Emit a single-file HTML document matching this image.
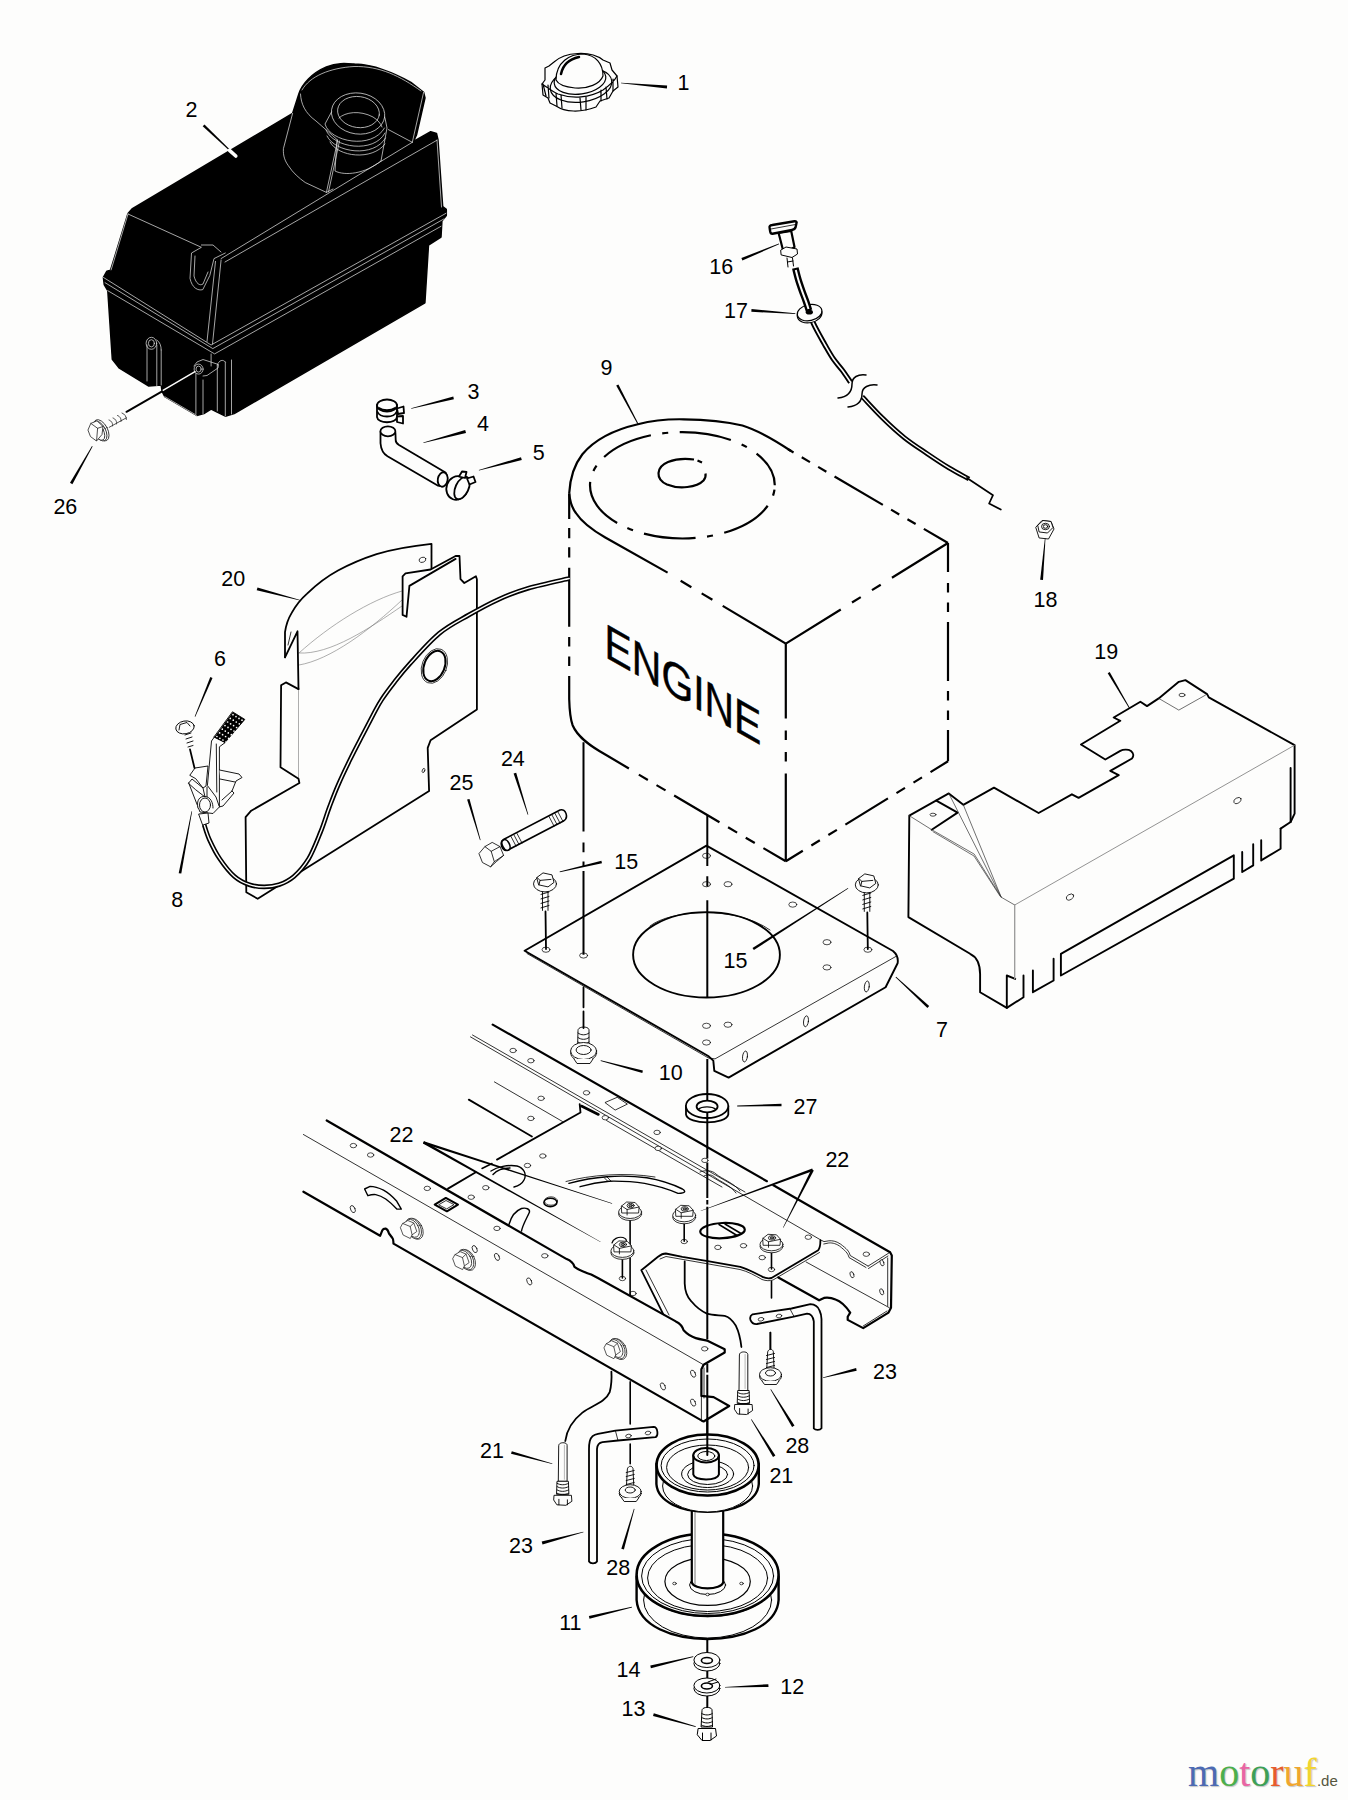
<!DOCTYPE html>
<html><head><meta charset="utf-8"><title>Engine mount parts diagram</title>
<style>
html,body{margin:0;padding:0;background:#fdfdfc;}
body{width:1348px;height:1800px;overflow:hidden;position:relative;font-family:"Liberation Sans",Arial,sans-serif;}
svg{position:absolute;left:0;top:0;display:block}
svg text{font-family:"Liberation Sans",Arial,sans-serif;font-size:21.5px;fill:#000}
.wm{position:absolute;left:1188px;top:1750px;font-family:"Liberation Serif","Times New Roman",serif;font-size:40px;line-height:46px;white-space:nowrap;letter-spacing:0;text-shadow:1px 1px 1px rgba(120,120,120,.45);opacity:.93}
.wm span.de{font-family:"Liberation Sans",Arial,sans-serif;font-size:15px;color:#4a4a30;text-shadow:none}
</style></head><body>
<svg width="1348" height="1800" viewBox="0 0 1348 1800" fill="none" stroke-linecap="round" stroke-linejoin="round">
<g id="tank">
<path fill="#000" stroke="#000" stroke-width="1.5" d="M298.9,93.7 C302,84 312,73 326.4,66.9 C338,62.5 346,63.5 354.6,64.1 C366,64.5 374,66.5 382.8,69.7 C394,73.5 403,78 410.9,82.4 L423.6,92.3 L425,97.9 L416.6,134.6 L413.5,141.5 L430.7,131.7 L436.5,133.5 L438,140 L442.7,206.7 L446.3,209.4 L446.3,215.6 L441.9,220.9 L441,237 L428.5,245 L424.9,302.8 L234.2,413.6 L225.3,416.2 L214.6,410.9 L211.1,409.1 L203.9,413.6 L196.8,415.4 L164.8,396.7 L162.1,391.3 L161.2,385.1 L148.8,386 L119.4,368.2 L112.3,359.3 L107.8,290.7 L104.2,284.5 L103.4,277.4 L106.9,271.2 L110.5,270.3 L128,213.5 L132,209 L270,126.8 L292.6,113.4 Z"/>
<path stroke="#dcdcdc" stroke-width="0.75" fill="none" d="M221.1,258.6 L412.3,142.3 M225,262 L437,140.2 M128,214 L201.4,247.3 L191.5,253 L190,278.4 C192,288 198,291 202.8,289.6 L209.8,275.5 L214,258.6 L225.3,253 M201.4,245 L213,245 L221,252 M195,256 L194,276 C196,284 200,286 203,284 L208,272"/>
<path stroke="#dcdcdc" stroke-width="0.75" fill="none" d="M103.4,277.4 L211.1,345 L446,213.3 M105.1,282.7 L212.8,348.6 L444,218.9 M107.8,290.7 L214.6,353.9 L441,226.3 M221.1,260 L212.5,344 M215.5,261.4 L207,341.5 M128,214 L111.1,269.9 M437,140 L441.5,207"/>
<path stroke="#dcdcdc" stroke-width="0.75" fill="none" d="M195.9,373.5 L195.9,413.6 M203,380 L203,413.8 M211.1,354 L211.1,366 M217.3,365 L217.3,411 M225.3,362 L225.3,416 M231.5,360 L231.5,414 M217.3,365 C219,360 223,359 225.3,362 M164.8,396.7 L196.8,415.4 M147,345 L147,381 M156.8,345 L156.8,386 M161.2,350 L161.2,385 M156.8,340 C160,342 161.2,346 161.2,350"/>
<ellipse stroke="#dcdcdc" stroke-width="0.75" fill="none" cx="151.4" cy="343.3" rx="5.3" ry="6"/><ellipse stroke="#dcdcdc" stroke-width="0.75" fill="none" cx="151.4" cy="343.3" rx="3" ry="3.6"/>
<path stroke="#dcdcdc" stroke-width="0.75" fill="none" d="M194,366 L197,362 L203,359.5 L218.5,364.5 L218,368 L207,375.5 L203,376"/><ellipse stroke="#dcdcdc" stroke-width="0.75" fill="none" cx="198.6" cy="369.1" rx="4.5" ry="5"/><ellipse stroke="#dcdcdc" stroke-width="0.75" fill="none" cx="198.6" cy="369.1" rx="2.6" ry="3"/>
<path stroke="#dcdcdc" stroke-width="0.75" fill="none" d="M292.6,113.4 L283.4,148.7 C283,156 285,161 288.3,165.6 C293,173 299,178 305.2,182.5 L326.4,192.4 L337.7,140.2 M328.5,192 L339.5,141 M300.5,94 C301,104 305,113 316,121 C324,128 331,134 337.7,140.2 M326.4,192.4 L333,189 M388.4,129.6 L412.3,142.3 M423.6,92.3 L412.3,142.3 M302,90 C310,76 330,68 354,66.5 C380,66 400,76 421,91"/>
<ellipse stroke="#dcdcdc" stroke-width="0.75" fill="none" cx="358.1" cy="113.5" rx="26.8" ry="20.5" transform="rotate(8 358 113.5)"/>
<ellipse stroke="#dcdcdc" stroke-width="0.75" fill="none" cx="358.5" cy="112" rx="21" ry="15.5" transform="rotate(8 358 112)"/>
<path stroke="#dcdcdc" stroke-width="0.75" fill="none" d="M339,118 C345,112 360,110 373,117 C378,120 381,124 382,127 M331.5,112 L325,124 C330,142 372,150 384.5,128 M326,130 C333,148 374,154 385,133 M327,136 C335,153 374,158 385.5,138 M330,142 C338,157 372,161 385,144 M385,118 L387,128 L381,161 M337,140 L335,171 C345,176 365,174 381,161"/>
</g>
<polygon fill="#000" points="202.7,126.3 229.2,150.4 229.8,149.6 204.5,124.5"/>
<path stroke="#fdfdfc" stroke-width="3.6" stroke-linecap="round" d="M229.5,150.3 L235.8,156"/>
<path stroke="#fdfdfc" stroke-width="1.5" d="M195,371.7 L163,390.4"/>
<path stroke="#000" stroke-width="2" d="M162.1,391.3 L126.5,411.8"/>
<path stroke="#222" stroke-width="0.8" fill="none" d="M109.2,427.3 L126.4,417.8 M109,420 C112,421 113,424 112.5,426 M113,418 C116,419 117,422 116.5,424 M117.5,415.5 C120.5,416.5 121.5,419.5 121,421.5 M122,413 C125,414 126.5,417 126.4,419.5"/>
<g fill="#fdfdfc" stroke="#222" stroke-width="0.8"><ellipse cx="101.3" cy="430.3" rx="6.3" ry="11.6" transform="rotate(-28 101.3 430.3)"/><ellipse cx="99.8" cy="431" rx="5.8" ry="10.8" transform="rotate(-28 99.8 431)"/><ellipse cx="98.5" cy="431.5" rx="5" ry="9.6" transform="rotate(-28 98.5 431.5)"/><polygon points="88.1,429.7 90.8,423.4 97,420.8 103,426.5 102,434.5 96.5,441 90.8,436.8"/><path fill="none" d="M90.8,423.4 L97.6,428.3 L103,426.5 M97.6,428.3 L96.6,440.5"/></g>
<polygon fill="#000" points="72.4,484.2 92.6,446.5 92.0,446.1 70.0,482.8"/>
<g id="cap" stroke="#000" stroke-width="1.2" fill="#fdfdfc">
<path d="M545,68 L549,66 L554,62 C565,52 590,50 603,60 L610,63 L612,70 L617,76 L618,87 L613,91 L609,98 L600,101 L596,107 C580,113 565,112 556,106 L550,103 L548,98 L543,95 L542,84 L545,80 Z"/>
<ellipse cx="581" cy="85" rx="31" ry="17" transform="rotate(-8 581 85)"/>
<ellipse cx="580" cy="80" rx="26" ry="14" transform="rotate(-8 580 80)"/>
<path d="M556,80 C556,62 570,54 583,54 C596,55 603,64 603,76 C600,84 588,89 575,88 C565,87 558,84 556,80 Z"/>
<path stroke-width="2.5" fill="none" d="M561,74 C563,64 570,59 579,57"/>
<path fill="none" d="M543,84 L546,96 M548,85 L549,98 M556,93 L557,106 M561,95 L562,108 M580,98 L581,110 M586,97 L586,110 M601,90 L601,101 M606,87 L607,99 M613,79 L613,91 M542,84 C548,88 553,92 558,94 C572,99 590,98 603,90 C610,85 615,80 617,76"/>
</g>
<polygon fill="#000" points="667.1,85.6 621.0,82.7 621.0,83.3 666.9,88.4"/>
<g id="hose" stroke="#000" stroke-width="1.8" fill="#fdfdfc">
<path d="M380.5,431.8 L380.5,443.2 C381,450 383,453.5 387.5,456.3 L438.1,485.7 C445,488 449,478 445.5,472.6 L399,444.9 C396,443 395.6,441 395.7,440 L395.4,432.6"/>
<ellipse cx="387.9" cy="431.3" rx="7.5" ry="5"/>
<ellipse cx="442.7" cy="479.5" rx="4.9" ry="7.3" transform="rotate(10 442.7 479.5)"/>
<path d="M377,405 L377,417 C378,424 396,424 397,417 L397,405"/><ellipse cx="387" cy="405.5" rx="10" ry="6"/><path fill="none" d="M377.5,412 C380,418 394,418 396.5,412 M379,408 C383,411 391,411 395,408"/>
<path d="M397,408.5 L403.5,406.5 L404,413 L398,414 Z M397,416.5 L403,416 L403,423.5 L397,422 Z"/>
<ellipse cx="457" cy="488" rx="10.5" ry="12" transform="rotate(20 457 488)"/><ellipse cx="462" cy="488" rx="6.5" ry="12" transform="rotate(25 462 488)"/>
<path d="M459,476.5 L462,471.5 L466.5,472 L465,478 Z M467,478.5 L473.5,476.5 L475.5,482 L469.5,484.5 Z"/>
</g>
<polygon fill="#000" points="453.3,396.5 411.1,408.2 411.3,408.8 453.9,399.3"/>
<polygon fill="#000" points="465.2,430.1 423.3,442.4 423.5,443.0 466.0,432.9"/>
<polygon fill="#000" points="521.0,457.3 478.8,469.9 479.0,470.5 521.8,460.1"/>
<g id="engine" stroke="#000" stroke-width="2.2" fill="none" stroke-linecap="butt">
<path d="M569.2,493.4 C570,478 574,465 582.4,454.2 C596,438 617,429 637.9,424.2 C652,420.5 668,419 683.6,419.3 C703,419.5 724,421 742.4,425.5 C760,431 776,441 791,451"/>
<path stroke-dasharray="28 9.5 9.5 9.5 9.5 9.5 56 9.5 9.5 9.5 9.5 9.5 300" d="M948,543 L788.1,449.3"/>
<path stroke-dasharray="29 11 9.5 10 9.5 10 59 10 9.5 10 9.5 10 300" d="M948,543 L948,761.3"/>
<path d="M569.2,493.4 C570,502 572,508 575.9,513 C583,524 594,531 605.3,537.5 L667.6,572.6"/>
<path stroke-dasharray="73.5 12 12.5 12 12.5 300" d="M785.8,643.6 L676,578"/>
<path stroke-dasharray="64.7 13.2 10.3 13.2 10.3 13.2 300" d="M785.8,643.6 L948,543"/>
<path stroke-dasharray="75 12 9.5 12 9.5 12 300" d="M785.8,643.6 L785.8,861.3"/>
<path stroke-dasharray="25.5 9 10.4 9 10.2 10.3 59 10.3 9.5 10 9.5 10 300" d="M569.2,493.4 L569.2,699 C569.5,710 570,718 572.6,725.2 C578,738 592,747 605.3,754.5 L628.9,768.5"/>
<path stroke-dasharray="26 10 10.5 10 10.5 10 52.6 10 10.5 10 10.5 300" d="M785.8,861.3 L636,773"/>
<path stroke-dasharray="20 10 10 10 10 10 50 10 10 10 10 10 300" d="M785.8,861.3 L948,761.3"/>
<ellipse cx="682.4" cy="485.3" rx="92.4" ry="53.2" stroke-dasharray="52 11.5 6 11.5" stroke-dashoffset="-22"/>
<path d="M694,459.5 C686,458.3 676,458.8 668,462 C656,467 655,479 667,484.5 C679,489.5 697,487.5 703.5,480.5 C705.5,478 705.8,475 705.5,473.5 M697.5,460.5 L702,462.5"/>
</g>
<text transform="matrix(0.843,0.479,0,1,604.6,656.4)" style="font-size:48.5px" stroke="#000" stroke-width="0.5" x="0" y="0">ENGINE</text>
<polygon fill="#000" points="616.2,385.6 637.6,424.2 638.4,423.8 618.4,384.4"/>
<g id="c16" stroke="#000" fill="#fdfdfc">
<path stroke-width="5.4" fill="none" stroke-linecap="butt" d="M809.0,310.5 C809.8,312.7 810.9,318.0 813.5,323.7 C816.1,329.4 821.4,338.6 824.7,344.5 C828.1,350.4 830.6,355.0 833.6,359.3 C836.6,363.6 839.7,366.7 842.5,370.5 C845.3,374.3 849.2,380.3 850.6,382.3"/><path stroke="#fdfdfc" stroke-width="1.6" fill="none" d="M809.0,310.5 C809.8,312.7 810.9,318.0 813.5,323.7 C816.1,329.4 821.4,338.6 824.7,344.5 C828.1,350.4 830.6,355.0 833.6,359.3 C836.6,363.6 839.7,366.7 842.5,370.5 C845.3,374.3 849.2,380.3 850.6,382.3"/>
<path stroke-width="4.8" fill="none" stroke-linecap="butt" d="M862.2,396.7 C865.6,400.2 875.2,410.9 882.3,417.8 C889.3,424.7 897.1,431.9 904.5,437.8 C911.9,443.7 919.4,448.4 926.8,453.4 C934.2,458.4 942.0,463.6 949.0,467.9 C956.0,472.2 965.7,477.1 969.0,479.0"/><path stroke="#fdfdfc" stroke-width="1.3" fill="none" d="M862.2,396.7 C865.6,400.2 875.2,410.9 882.3,417.8 C889.3,424.7 897.1,431.9 904.5,437.8 C911.9,443.7 919.4,448.4 926.8,453.4 C934.2,458.4 942.0,463.6 949.0,467.9 C956.0,472.2 965.7,477.1 969.0,479.0"/>
<path stroke-width="1.7" fill="none" d="M967,478 L993,495.2 L989.1,503.5 L1000.8,509.6"/>
<path stroke-width="1.5" fill="none" d="M838,398 C848,397 852,392 852,384 C852,377 858,374 866,375 M848,407 C858,406 862,401 862,394 C862,387 869,384 877,385"/>
<path stroke-width="2.2" d="M778.6,233 L782.6,248.5 C785,251 792,250 794.5,247 L791.2,231 Z"/><path stroke-width="2.4" d="M769.7,228.5 C769,226 770,225.3 772.3,225 L794.5,221.3 C796.5,221.2 797,222.5 796.4,223.5 L795.5,227.5 C795,229 794.5,229.5 792,230 L772.5,233.8 C771,234 770.5,233 770.2,231.5 Z"/><path stroke-width="0.8" fill="none" d="M771,229 L795.5,224.5"/>
<path stroke-width="1" d="M781,250 L786,247 L797,249 L797.5,254 L792,257.5 L781.5,255 Z M787,258 L788,267 M792.5,258 L793.5,266 M787.5,262 L793,261"/>
<ellipse stroke-width="1.2" cx="809.6" cy="314.4" rx="12.5" ry="8.3" transform="rotate(-12 809.6 314.4)"/><ellipse stroke-width="1.2" cx="809.6" cy="312.6" rx="12.5" ry="8" transform="rotate(-12 809.6 312.6)"/><ellipse fill="#000" stroke="none" cx="809.3" cy="312.2" rx="3.6" ry="2.4"/>
<path stroke-width="6.8" fill="none" stroke-linecap="butt" d="M795.3,268.0 C795.8,269.9 797.1,275.5 798.2,279.2 C799.3,282.9 800.6,286.6 801.9,290.3 C803.2,294.0 804.8,298.0 806.0,301.4 C807.2,304.8 808.5,309.0 809.0,310.5"/><path stroke="#fdfdfc" stroke-width="2" fill="none" stroke-linecap="butt" d="M795.8,270.0 C796.2,271.5 797.2,275.8 798.2,279.2 C799.2,282.6 800.6,286.6 801.9,290.3 C803.2,294.0 804.9,298.3 806.0,301.4 C807.1,304.5 808.1,307.7 808.5,309.0"/>
<g stroke-width="0.9" transform="translate(0,3)"><polygon points="1036,524 1042,517.5 1051,518.5 1054,526 1048.5,536 1039.5,535"/><polygon points="1038,522 1043,517.5 1051,518.5 1053,524.5 1047.5,530 1039.5,529"/><ellipse cx="1045.5" cy="523.5" rx="4" ry="3.2"/><ellipse cx="1045.5" cy="523.5" rx="2.2" ry="1.8"/></g>
</g>
<polygon fill="#000" points="742.4,260.6 779.1,244.2 778.9,243.6 741.4,258.0"/>
<polygon fill="#000" points="751.3,311.8 795.3,313.9 795.3,313.3 751.5,309.0"/>
<polygon fill="#000" points="1043.0,579.9 1045.5,538.3 1044.9,538.3 1040.2,579.7"/>
<g id="shield" stroke="#000" stroke-width="1.8" fill="none">
<path fill="#fdfdfc" stroke="none" d="M285,657.3 L285,632.2 C286,625 288,619 291.7,612.9 C296,605 301,599 307.1,593.6 C316,585 326,577 338,570.5 C350,564 363,558.5 376.6,554.1 C394,549 412,546 431.5,543.9 L431.5,568.6 L431.5,620 L298,700 L297.5,631.3 Z"/>
<path fill="#fdfdfc" stroke="none" d="M298.5,689.1 L285.9,682.4 L281.1,685.3 L280.5,767.2 L298.5,778.8 L299.4,783 L251.2,810.7 L245.6,817.2 L246.3,892.3 L257.7,898.8 L429.1,791.1 L427.7,747.9 L430.6,740.2 L476.9,709.4 L476.9,579.2 L475.9,576.3 L464.3,583 L460.5,579.2 L459.5,556 L455.6,556 L430.6,569.5 L405.5,573.4 L402.6,576.3 L402.6,614.9 L406.5,616.8 L298,650 Z"/>
<path stroke="#777" stroke-width="0.6" d="M298.5,689.1 L298.5,778.8 M299,653 C330,625 370,600 402,591 M299,653 C330,655 370,628 402,606 M299,665 C330,660 370,630 402,600"/>
<path d="M285,657.3 L285,632.2 C286,625 288,619 291.7,612.9 C296,605 301,599 307.1,593.6 C316,585 326,577 338,570.5 C350,564 363,558.5 376.6,554.1 C394,549 412,546 431.5,543.9 L431.5,568.6"/>
<path d="M285,657.3 L297.5,631.3 L298.5,689.1"/>
<path d="M298.5,689.1 L285.9,682.4 L281.1,685.3 L280.5,767.2 L298.5,778.8 L299.4,783 L251.2,810.7 L245.6,817.2 L246.3,892.3 L257.7,898.8 L429.1,791.1 L427.7,747.9 L430.6,740.2 L476.9,709.4 L476.9,579.2 L475.9,576.3 L464.3,583 L460.5,579.2 L459.5,556 L455.6,556 L430.6,569.5 L405.5,573.4 L402.6,576.3 L402.6,614.9 L406.5,616.8 L409.4,585.9 L455.6,558.9"/>
<path stroke-width="0.8" d="M288,645 L291,632"/>
<ellipse stroke-width="0.7" cx="434.4" cy="666" rx="12.3" ry="18" transform="rotate(22 434.4 666)"/><ellipse stroke-width="2" cx="434.4" cy="666" rx="10.2" ry="15.8" transform="rotate(22 434.4 666)"/>
<ellipse stroke-width="0.7" cx="422.5" cy="559.8" rx="3.5" ry="2.5" transform="rotate(-20 422.5 559.8)"/><ellipse stroke-width="0.7" cx="423.5" cy="770.5" rx="1.2" ry="2.2" transform="rotate(20 423.5 770.5)"/>
</g>
<path stroke="#000" stroke-width="4.7" fill="none" stroke-linecap="butt" d="M569.2,578.5 C562.4,580.1 540.1,584.7 528.4,588.2 C516.6,591.7 508.6,594.8 498.7,599.3 C488.8,603.8 478.9,609.2 469.0,614.9 C459.1,620.6 449.2,625.2 439.3,633.4 C429.4,641.6 417.1,655.8 409.7,663.9 C402.3,672.0 399.4,675.8 394.8,681.7 C390.2,687.6 385.4,693.9 381.9,699.3 C378.3,704.7 376.8,708.0 373.5,714.2 C370.2,720.4 365.8,728.9 361.9,736.4 C358.0,743.9 354.1,751.3 350.2,759.3 C346.3,767.3 341.8,776.6 338.4,784.5 C334.9,792.4 332.5,798.9 329.5,806.8 C326.5,814.7 324.1,823.4 320.6,832.0 C317.1,840.6 313.1,851.3 308.7,858.7 C304.2,866.1 298.8,872.2 293.9,876.5 C288.9,880.8 283.9,883.0 279.0,884.7 C274.1,886.4 269.1,886.9 264.2,886.9 C259.2,886.9 254.2,886.4 249.3,884.7 C244.4,883.0 239.4,880.8 234.5,876.5 C229.6,872.2 223.9,864.9 219.7,858.7 C215.5,852.5 211.9,845.1 209.3,839.4 C206.7,833.7 205.0,827.1 204.1,824.6"/><path stroke="#fdfdfc" stroke-width="1.4" fill="none" d="M569.2,578.5 C562.4,580.1 540.1,584.7 528.4,588.2 C516.6,591.7 508.6,594.8 498.7,599.3 C488.8,603.8 478.9,609.2 469.0,614.9 C459.1,620.6 449.2,625.2 439.3,633.4 C429.4,641.6 417.1,655.8 409.7,663.9 C402.3,672.0 399.4,675.8 394.8,681.7 C390.2,687.6 385.4,693.9 381.9,699.3 C378.3,704.7 376.8,708.0 373.5,714.2 C370.2,720.4 365.8,728.9 361.9,736.4 C358.0,743.9 354.1,751.3 350.2,759.3 C346.3,767.3 341.8,776.6 338.4,784.5 C334.9,792.4 332.5,798.9 329.5,806.8 C326.5,814.7 324.1,823.4 320.6,832.0 C317.1,840.6 313.1,851.3 308.7,858.7 C304.2,866.1 298.8,872.2 293.9,876.5 C288.9,880.8 283.9,883.0 279.0,884.7 C274.1,886.4 269.1,886.9 264.2,886.9 C259.2,886.9 254.2,886.4 249.3,884.7 C244.4,883.0 239.4,880.8 234.5,876.5 C229.6,872.2 223.9,864.9 219.7,858.7 C215.5,852.5 211.9,845.1 209.3,839.4 C206.7,833.7 205.0,827.1 204.1,824.6"/>
<polygon fill="#000" points="256.7,590.2 300.0,600.5 300.2,599.9 257.5,587.4"/>
<g id="lever" stroke="#000" stroke-width="0.9" fill="#fdfdfc">
<polygon fill="#000" points="232.8,712 244.8,719.4 224.8,742.8 214.1,737.4"/>
<g fill="#fdfdfc" stroke="none"><circle cx="233.0" cy="714.7" r="0.85"/><circle cx="230.3" cy="718.4" r="0.85"/><circle cx="227.6" cy="722.0" r="0.85"/><circle cx="225.0" cy="725.6" r="0.85"/><circle cx="222.3" cy="729.2" r="0.85"/><circle cx="219.6" cy="732.9" r="0.85"/><circle cx="216.9" cy="736.5" r="0.85"/><circle cx="236.0" cy="716.6" r="0.85"/><circle cx="233.3" cy="720.2" r="0.85"/><circle cx="230.6" cy="723.8" r="0.85"/><circle cx="228.0" cy="727.4" r="0.85"/><circle cx="225.3" cy="731.1" r="0.85"/><circle cx="222.6" cy="734.7" r="0.85"/><circle cx="219.9" cy="738.3" r="0.85"/><circle cx="239.0" cy="718.4" r="0.85"/><circle cx="236.3" cy="722.0" r="0.85"/><circle cx="233.6" cy="725.6" r="0.85"/><circle cx="231.0" cy="729.3" r="0.85"/><circle cx="228.3" cy="732.9" r="0.85"/><circle cx="225.6" cy="736.5" r="0.85"/><circle cx="222.9" cy="740.1" r="0.85"/><circle cx="242.0" cy="720.2" r="0.85"/><circle cx="239.3" cy="723.8" r="0.85"/><circle cx="236.6" cy="727.5" r="0.85"/><circle cx="234.0" cy="731.1" r="0.85"/><circle cx="231.3" cy="734.7" r="0.85"/><circle cx="228.6" cy="738.3" r="0.85"/><circle cx="225.9" cy="742.0" r="0.85"/></g>
<path d="M214.1,737.4 L211.5,741 L207.4,785.5 L216,797 L219.4,806.9 L219.4,746.8 L224.8,742.8 Z M216.3,744 L216.8,792"/>
<path d="M190,775 L195,768 L208,766 L206,786 L203,788 L196,779 Z M188.7,783 L192,779 L203,788 L205,797 L196,790 Z M188.7,783 L200,812 L213,813.5 L219.4,806.9 M219.5,770 L239,774 L242,777.5 L236,781 L232,791 L222,800 M220,779 L235,782 M232,791 L234,793 L229,799 L223,806 L219.4,806.9 M207,800 L207,787"/>
<path d="M198,808 C196,800 200,796 205,796.5 C211,797 213,803 213,808"/><ellipse cx="205" cy="805" rx="5.5" ry="7"/>
<path d="M199,814 L208,813 L209,823 L203,825 Z"/>
<ellipse cx="185" cy="727.4" rx="9.3" ry="6.4" transform="rotate(-10 185 727.4)"/><path fill="none" d="M179,730 L180,724.5 L187,722.5 L190,726"/>
<path fill="none" d="M185,735 L191,733 M186,739 L192,737 M187,743 L193,741 M188,747 L193,745.5"/>
<path stroke-width="1.8" fill="none" d="M190,749.4 L194.5,768"/>
</g>
<polygon fill="#000" points="210.3,677.0 194.7,716.6 195.3,716.8 212.5,678.0"/>
<polygon fill="#000" points="181.3,873.6 192.1,811.5 191.5,811.3 178.7,873.2"/>
<g stroke="#000" stroke-width="1.6" fill="#fdfdfc">
<path d="M503.5,839.5 L560,810 C566,808 569,818 563.5,821 L508,850 C502,852 499,842 503.5,839.5 Z"/><ellipse cx="506" cy="845" rx="3.5" ry="5.7" transform="rotate(-27 506 845)"/>
<path stroke-width="0.8" d="M511,836.5 L516,846 M514,835 L519,844.5 M517,833.5 L522,843 M549,816.5 L554,826 M552,815 L557,824.5 M555,813.5 L560,823 M558,812 L563,821.5"/>
<g stroke-width="0.8"><polygon points="479.2,853.3 484.9,846.6 492.2,842.4 500,846.6 503.6,855.4 496.3,861.7 490.6,866.8 482.8,862.7"/><path fill="none" d="M484.9,846.6 L491.2,851.3 L500,846.6 M491.2,851.3 L494.3,861.7 L503.6,855.4 M494.3,861.7 L490.6,866.8"/></g>
</g>
<polygon fill="#000" points="513.6,773.6 527.7,814.7 528.3,814.5 516.2,772.8"/>
<polygon fill="#000" points="467.1,799.6 480.0,840.2 480.6,840.0 469.5,799.0"/>
<g id="p19" stroke="#000" stroke-width="1.9" fill="none">
<path fill="#fdfdfc" stroke="none" d="M1280.6,828.6 L1290.6,822 L1294.6,813.6 L1294.6,745.2 L1208.8,697.4 L1207.1,694.1 L1185.4,680.1 L1178.8,681.8 L1158.7,698.4 L1147,706.1 L1140.4,701.8 L1113.7,717.5 L1120.3,720.8 L1081,744.5 L1105.3,759.5 L1120.3,750.9 C1123,749.5 1128,749 1131,751 C1133.5,753 1134,756 1132,758.5 L1110.3,770.9 L1118.7,775.2 L1078.6,797.9 L1071.9,794.3 L1038.6,813 L994,787.7 L963.3,804.8 L948.8,793.4 L909.3,815.7 L908.4,917.1 L970.1,953.8 C977,957 980,963 980.1,973.9 L980.1,992.2 L1006.8,1007.9 L1023.5,997.2 L1023.5,975.5 L1280.6,828.6 Z"/>
<path d="M1280.6,828.6 L1290.6,822 L1294.6,813.6 L1294.6,745.2 L1208.8,697.4 L1207.1,694.1 L1185.4,680.1 L1178.8,681.8 L1158.7,698.4 L1147,706.1 L1140.4,701.8 L1113.7,717.5 L1120.3,720.8 L1081,744.5 L1105.3,759.5 L1120.3,750.9 C1123,749.5 1128,749 1131,751 C1133.5,753 1134,756 1132,758.5 L1110.3,770.9 L1118.7,775.2 L1078.6,797.9 L1071.9,794.3 L1038.6,813 L994,787.7 L963.3,804.8 L948.8,793.4 L909.3,815.7 L908.4,917.1 L970.1,953.8 C977,957 980,963 980.1,973.9 L980.1,992.2 L1006.8,1007.9 L1023.5,997.2 L1023.5,975.5"/>
<path fill="#fdfdfc" d="M1280.6,828.6 L1280.6,848.7 L1261.2,860.4 L1261.2,840.3 M1253.2,844.3 L1253.2,865.4 L1242.2,872 L1242.2,852 M1053.6,958.8 L1053.6,980.5 L1032.9,992.2 L1032.9,970.5"/>
<path fill="#fdfdfc" d="M1233.8,855.3 L1233.8,878.7 L1060.9,975.5 L1060.9,953.8 Z"/>
<path d="M1006.8,1007.9 L1006.8,975.5 L1015.2,978.9 M1290.6,822 L1290.6,768 M936.3,800.6 L957.6,812.6 L931.7,829.7"/>
<path stroke-width="0.7" stroke="#333" d="M909.3,815.7 L931.7,829.7 L974.2,854.1 L1001.2,897.2 M933,831.7 L974,856 L1000,896 M948.8,793.4 L1001.2,897.2 L963.3,804.8 M1001.2,897.2 L1014.7,905 M1158.7,698.4 L1178.8,710.1 L1205.5,695.1"/>
<path stroke-width="0.8" stroke="#777" d="M1014.7,905 L1294.6,745.2"/><path stroke-width="1.3" stroke="#999" d="M1014.7,905 L1014.7,978.5"/>
<g stroke-width="0.7" fill="#fdfdfc"><ellipse cx="933" cy="814.7" rx="3" ry="1.5"/><ellipse cx="1182" cy="695" rx="3" ry="1.7"/><ellipse cx="1237.5" cy="800.5" rx="4" ry="2.6" transform="rotate(-30 1237.5 800.5)"/><ellipse cx="1070" cy="897" rx="4" ry="2.6" transform="rotate(-30 1070 897)"/></g>
</g>
<polygon fill="#000" points="1107.7,673.3 1129.4,708.7 1130.0,708.3 1109.7,672.1"/>
<g id="plate" stroke="#000" stroke-width="1.9" fill="#fdfdfc">
<path d="M706.5,845.6 L524.6,950.7 L708.2,1056 L713.3,1060.6 L714.3,1070.8 L728.6,1077.6 L885.6,987.2 L897.6,963.3 C898.5,958 897.6,954.8 893,951 Z"/>
<path fill="none" stroke-width="0.8" d="M527,953.5 L708.5,1058 L715,1058.9 L895.8,956.5"/>
<ellipse cx="706.5" cy="954.8" rx="73.4" ry="42.7"/>
<path fill="none" stroke-width="0.8" d="M650,926 C670,910 735,905 770,930"/>
<g stroke-width="0.7"><ellipse cx="706.5" cy="855.8" rx="4" ry="2.6"/><ellipse cx="706.5" cy="884.2" rx="4" ry="2.6"/><ellipse cx="728.0" cy="884.2" rx="4" ry="2.6"/><ellipse cx="792.8" cy="904.6" rx="4" ry="2.6"/><ellipse cx="827.0" cy="942.2" rx="4" ry="2.6"/><ellipse cx="827.0" cy="967.4" rx="4" ry="2.6"/><ellipse cx="867.9" cy="949.7" rx="4" ry="2.6"/><ellipse cx="706.5" cy="1025.8" rx="4" ry="2.6"/><ellipse cx="728.0" cy="1024.7" rx="4" ry="2.6"/><ellipse cx="706.5" cy="1042.5" rx="4" ry="2.6"/><ellipse cx="546.0" cy="949.7" rx="4" ry="2.6"/><ellipse cx="583.6" cy="955.5" rx="4" ry="2.6"/></g>
<g stroke-width="0.8"><ellipse cx="866.8" cy="986.5" rx="2.4" ry="5.5" transform="rotate(8 866.8 986.5)"/><ellipse cx="806.0" cy="1021.3" rx="2.4" ry="5.5" transform="rotate(8 806.0 1021.3)"/><ellipse cx="745.0" cy="1056.5" rx="2.4" ry="5.5" transform="rotate(8 745.0 1056.5)"/></g>
</g>
<path stroke="#000" stroke-width="2" stroke-linecap="butt" d="M583.5,742.3 L583.5,831.5 M583.5,842.4 L583.5,852.3 M583.5,861.5 L583.5,866 M583.5,871 L583.5,954.8 M707.3,815.3 L707.3,866 M707.3,876.3 L707.3,886.5 M707.3,900.2 L707.3,997.5"/>
<g stroke="#000" stroke-width="0.9" fill="#fdfdfc"><path stroke-width="1.8" d="M545.5,911.4 L546.0,949.0"/><path fill="none" d="M542.5,890.4 l0,20 M548.0,890.4 l0,20 M541.0,894.4 l8,-2.4 M541.0,898.9 l8,-2.4 M541.0,903.4 l8,-2.4 M541.0,907.9 l8,-2.4"/><ellipse cx="545.0" cy="883.9" rx="11.5" ry="8"/><polygon points="537.0,877.4 543.0,872.9 552.0,874.9 554.0,882.4 548.0,886.9 539.0,884.9"/><path fill="none" d="M537.0,877.4 L540.0,880.4 L551.0,879.4 M540.0,880.4 L539.0,884.9"/></g>
<g stroke="#000" stroke-width="0.9" fill="#fdfdfc"><path stroke-width="1.8" d="M867.3,912.4 L867.8,949.0"/><path fill="none" d="M864.3,891.4 l0,20 M869.8,891.4 l0,20 M862.8,895.4 l8,-2.4 M862.8,899.9 l8,-2.4 M862.8,904.4 l8,-2.4 M862.8,908.9 l8,-2.4"/><ellipse cx="866.8" cy="884.9" rx="11.5" ry="8"/><polygon points="858.8,878.4 864.8,873.9 873.8,875.9 875.8,883.4 869.8,887.9 860.8,885.9"/><path fill="none" d="M858.8,878.4 L861.8,881.4 L872.8,880.4 M861.8,881.4 L860.8,885.9"/></g>
<polygon fill="#000" points="601.4,860.8 559.6,871.6 559.8,872.2 602.0,863.2"/>
<polygon fill="#000" points="753.9,950.1 848.3,888.6 847.9,888.0 752.5,947.9"/>
<polygon fill="#000" points="929.2,1006.0 896.1,976.7 895.5,977.3 927.4,1008.0"/>
<g stroke="#000" stroke-width="0.9" fill="#fdfdfc">
<path d="M578,1030 C578,1026 589,1026 589,1030 L589,1047 L578,1047 Z M578,1033 C581,1035.5 586,1035.5 589,1033 M578,1037.5 C581,1040 586,1040 589,1037.5 M578,1042 C581,1044.5 586,1044.5 589,1042"/>
<ellipse cx="583.6" cy="1053" rx="13" ry="8.5"/><ellipse cx="583.6" cy="1051" rx="13" ry="8.5"/><ellipse cx="583.6" cy="1050" rx="7.5" ry="4.5"/><path d="M574,1059 L577,1063.5 L590,1063.5 L593,1059"/>
</g>
<path stroke="#000" stroke-width="1.8" d="M583.5,987.2 L583.5,1007.3 M583.5,1011.4 L583.5,1028"/>
<polygon fill="#000" points="642.9,1070.6 600.8,1060.3 600.6,1060.9 642.3,1073.0"/>
<g stroke="#000" stroke-width="1.8" fill="#fdfdfc">
<path d="M686,1106 L686,1114.5 C688,1125 726,1125 728.3,1114.5 L728.3,1106"/><ellipse cx="707.1" cy="1106" rx="21.2" ry="12"/><ellipse cx="707.1" cy="1106.5" rx="10.5" ry="5.8"/><path fill="none" stroke-width="1.2" d="M698,1109.5 C702,1106 712,1106 716,1109.5"/>
</g>
<path stroke="#000" stroke-width="2" stroke-linecap="butt" d="M707.3,1059 L707.3,1100 M707.3,1112.5 L707.3,1118"/>
<polygon fill="#000" points="781.5,1103.7 737.2,1105.6 737.2,1106.4 781.5,1106.3"/>
<g id="frame" stroke="#000" fill="none">
<path stroke-width="2.2" d="M492.7,1024.6 L766.9,1181.2 M773.4,1185.3 L890.1,1252.2 L891.8,1255.5 L891,1307.7 L888.5,1312.6 L863.2,1328.1 L847.7,1319.9 L847.7,1316.7 L850.2,1312.6 C845,1305 840,1301 835.5,1299.5 C831,1297.5 827,1297.5 824,1297.9 L819.1,1300.3 L778.3,1277.5"/>
<path stroke-width="0.8" d="M890.1,1252.2 L868.1,1266.1 M888,1256 L868.5,1268.5 M887.7,1258 L887.7,1306 M863.2,1326 L887,1311 M868.1,1266.1 L850.2,1255.5 C849,1251 846.9,1248.9 840.4,1244 C836,1241 832,1240.5 828.9,1240.8 L824,1241.6 L820.8,1240 M866,1267.5 L849,1257.5 C848,1253 845,1250.5 839.5,1246 C835,1243 831,1242.7 828.5,1243 L823.8,1244 M806.1,1262 L889.3,1307.7 M470.5,1036.9 L820.8,1240 M472.5,1035 L745,1192 M700,1172 C705,1170 712,1170 716,1174 C722,1179 734,1183 740,1191 M704,1176 C708,1174 712,1174.5 715,1177.5 C720,1181.5 731,1185.5 736,1193 M494.4,1081.9 L562.5,1121.5 M606.5,1120.5 L722,1187"/>
<path stroke-width="1.8" d="M468.8,1099.6 L531.9,1136.5"/>
<path stroke-width="0.8" d="M605.3,1102.4 L617.2,1097.3 L627.4,1104.1 L615.5,1109.9 Z"/>
</g>
<g stroke="#000" stroke-width="0.7" fill="#fdfdfc"><ellipse cx="513.1" cy="1050.5" rx="3.2" ry="2.2" transform="rotate(0 513.1 1050.5)"/><ellipse cx="530.9" cy="1060.7" rx="3.2" ry="2.2" transform="rotate(0 530.9 1060.7)"/><ellipse cx="541.1" cy="1098.3" rx="3.2" ry="2.2" transform="rotate(0 541.1 1098.3)"/><ellipse cx="530.9" cy="1118.4" rx="3.2" ry="2.2" transform="rotate(0 530.9 1118.4)"/><ellipse cx="586.5" cy="1092.8" rx="3.2" ry="2.2" transform="rotate(0 586.5 1092.8)"/><ellipse cx="605.3" cy="1117.7" rx="3.2" ry="2.2" transform="rotate(0 605.3 1117.7)"/><ellipse cx="657.1" cy="1132.4" rx="3.2" ry="2.2" transform="rotate(0 657.1 1132.4)"/><ellipse cx="658.2" cy="1148.4" rx="3.2" ry="2.2" transform="rotate(0 658.2 1148.4)"/><ellipse cx="704.9" cy="1160.4" rx="3.2" ry="2.2" transform="rotate(0 704.9 1160.4)"/><ellipse cx="808.3" cy="1237.2" rx="3.2" ry="2.2" transform="rotate(0 808.3 1237.2)"/><ellipse cx="866.3" cy="1254.2" rx="3.2" ry="2.2" transform="rotate(0 866.3 1254.2)"/></g>
<g stroke="#000" stroke-width="0.7" fill="#fdfdfc"><ellipse cx="852.0" cy="1274.7" rx="1.8" ry="3.2" transform="rotate(-20 852.0 1274.7)"/><ellipse cx="881.7" cy="1291.8" rx="1.8" ry="3.2" transform="rotate(-20 881.7 1291.8)"/><ellipse cx="882.0" cy="1262.8" rx="1.8" ry="3.2" transform="rotate(-20 882.0 1262.8)"/></g>
<g stroke="#000" fill="none">
<path stroke-width="1.8" d="M579.7,1104.1 L580.5,1112.5 L497,1159.6 M475.8,1172.3 L448,1188.6"/>
<path stroke-width="2.6" d="M581.4,1106 L598.4,1114.5"/>
<path stroke-width="1.4" d="M568.9,1183.4 C585,1179 596,1177.5 606.8,1176.7 C620,1175.8 634,1176 646.8,1177.8 C660,1180 672,1184 682.4,1189 C686,1191 686,1193.5 678,1193.4 C668,1189 656,1185.5 644.6,1183.4 C633,1181.5 620,1181 609,1181.2 C599,1182 589,1184 580.1,1186.7"/>
<path stroke-width="0.8" d="M566,1181.5 C590,1175 625,1172 655,1177 M607,1177 L611,1181 M604,1177.5 L608,1181.5"/>
<ellipse stroke-width="2.2" cx="722.5" cy="1230.6" rx="22.3" ry="7.6" transform="rotate(-3 722.5 1230.6)"/><path stroke-width="1.5" d="M719,1224.5 L737,1235.5 M725,1224 L741,1233.5"/>
<path stroke-width="1.4" d="M491,1171 C497,1167 508,1164.5 517,1166 C524,1168 527,1174 524,1180 C522,1184 518,1186 514,1187 M482,1168.5 L492,1163.5 M493,1174.5 C497,1170 503,1168 510,1168"/>
<path stroke-width="1.4" d="M509,1224.5 C511,1217 515,1211 521.5,1208.5 C526,1207.5 530,1209 529.5,1212 C527,1218 523,1224 521.5,1231"/>
<ellipse stroke-width="1.6" cx="550.4" cy="1202.4" rx="6.5" ry="4.2"/><ellipse stroke-width="0.7" cx="551" cy="1201" rx="6.5" ry="4.2"/>
<path stroke-width="0.7" d="M498,1224 C501,1226 504,1230 506,1235"/>
<path stroke-width="1.8" fill="#fdfdfc" d="M664.6,1316.9 L641.3,1270.2 L658,1256.8 C661,1254.5 663,1253.5 665.8,1253.5 L682.4,1256.8 L709.2,1261.3 L740.3,1266.8 C748,1269 755,1273 762.6,1276.9 C766,1278.5 769,1278.5 771.5,1278 L818.2,1250.2 C820,1248 820.4,1245 820.4,1240.5"/>
<path stroke-width="0.8" d="M646,1270 L669,1315 M660,1259 L666,1256.5 L740,1269.5 C748,1271.5 755,1275.5 762,1279.5 C766,1281 770,1281 773,1280 L819.5,1252.5"/>
</g>
<g stroke="#000" stroke-width="0.7" fill="#fdfdfc"><ellipse cx="542.8" cy="1156.0" rx="3.2" ry="2.2" transform="rotate(0 542.8 1156.0)"/><ellipse cx="527.5" cy="1165.5" rx="3.2" ry="2.2" transform="rotate(0 527.5 1165.5)"/><ellipse cx="485.8" cy="1187.7" rx="3.2" ry="2.2" transform="rotate(0 485.8 1187.7)"/><ellipse cx="471.2" cy="1197.2" rx="3.2" ry="2.2" transform="rotate(0 471.2 1197.2)"/><ellipse cx="717.9" cy="1247.4" rx="3.2" ry="2.2" transform="rotate(0 717.9 1247.4)"/><ellipse cx="743.5" cy="1245.7" rx="3.2" ry="2.2" transform="rotate(0 743.5 1245.7)"/><ellipse cx="762.2" cy="1257.6" rx="3.2" ry="2.2" transform="rotate(0 762.2 1257.6)"/><ellipse cx="684.2" cy="1241.5" rx="3.2" ry="2.2" transform="rotate(0 684.2 1241.5)"/><ellipse cx="771.5" cy="1269.5" rx="3.2" ry="2.2" transform="rotate(0 771.5 1269.5)"/><ellipse cx="622.4" cy="1278.5" rx="3.2" ry="2.2" transform="rotate(0 622.4 1278.5)"/><ellipse cx="633.0" cy="1293.5" rx="3.2" ry="2.2" transform="rotate(0 633.0 1293.5)"/></g>
<g stroke="#000" stroke-width="1.8" fill="none">
<path d="M684.7,1261.3 L684.7,1283.5 C685,1292 687,1297 691.3,1301.3 C696,1307 701,1311 706.9,1313.6 C713,1315.5 719,1315 724.7,1315.8 C730,1317 733,1321 735.9,1325.8 C739,1332 740.5,1339 741.4,1347"/>
<path d="M611.4,1371.7 C612,1381 611,1387 609.7,1392.1 C605,1403 592,1405 582.4,1412.6 C573,1420 567,1428 565.3,1441"/>
<path stroke-width="1.6" d="M630.2,1381.9 L630.2,1424 M630.2,1444 L630.2,1463.8"/>
</g>
<g stroke="#000" fill="none">
<path fill="#fdfdfc" stroke="none" d="M326.7,1120.5 L566.7,1259.1 C570,1260.5 573,1262 574.5,1266.8 C580,1271 586,1272.5 591.2,1274.6 L597.9,1278 L675.8,1321.4 C680,1323.5 682.5,1326 683.6,1330.3 C688,1335 692,1337 695.8,1338.1 C701,1339.5 704,1340 708,1341 L724.7,1349.2 L724.7,1352.5 L703.6,1364.8 L701.4,1369.2 L701.4,1395.9 L713.6,1397.1 L729.2,1406 L703.6,1421.5 L701.4,1420.4 L393.5,1243.6 C393.3,1240 393,1238.5 392.4,1238 L389,1233.5 C388,1230 387,1229 385.7,1228.6 C384,1228.5 383,1229 382.4,1230.2 L380.1,1235.8 L303.4,1191.7 L303.4,1134.5 Z"/>
<path stroke-width="2.2" d="M326.7,1120.5 L566.7,1259.1 C570,1260.5 573,1262 574.5,1266.8 C580,1271 586,1272.5 591.2,1274.6 L597.9,1278 L675.8,1321.4 C680,1323.5 682.5,1326 683.6,1330.3 C688,1335 692,1337 695.8,1338.1 C701,1339.5 704,1340 708,1341 L724.7,1349.2 L724.7,1352.5 L703.6,1364.8 L701.4,1369.2 L701.4,1395.9 L713.6,1397.1 L729.2,1406 L703.6,1421.5 L701.4,1420.4 L393.5,1243.6 C393.3,1240 393,1238.5 392.4,1238 L389,1233.5 C388,1230 387,1229 385.7,1228.6 C384,1228.5 383,1229 382.4,1230.2 L380.1,1235.8 L303.4,1191.7"/>
<path stroke-width="0.8" d="M303.4,1134.5 L703.6,1364.8 M701.4,1369.2 L701.4,1420.4 M704,1368 L704,1398"/>
<path stroke-width="1.4" d="M364.6,1189 L370.1,1186.4 C375,1186.5 379,1188 383.5,1190.1 C389,1193 393,1197 396.8,1201.3 L401.3,1209.1 L396.8,1209.1 C393,1205 390,1202 385.7,1199 C382,1196.5 379,1195.3 375.7,1194.6 C373,1194.3 370,1195 367.9,1195.7 Z"/>
<path stroke-width="2" d="M434.7,1204.6 L445.8,1197.9 L458,1204.6 L446.9,1211.3 Z"/><path stroke-width="0.8" d="M439,1204.6 L446,1200.5 L454,1204.6 L447,1208.7 Z"/>
</g>
<g stroke="#000" stroke-width="0.7" fill="#fdfdfc"><ellipse cx="353.4" cy="1145.6" rx="3.2" ry="2.2" transform="rotate(0 353.4 1145.6)"/><ellipse cx="370.6" cy="1155.0" rx="3.2" ry="2.2" transform="rotate(0 370.6 1155.0)"/><ellipse cx="427.3" cy="1188.4" rx="3.2" ry="2.2" transform="rotate(0 427.3 1188.4)"/><ellipse cx="497.0" cy="1228.4" rx="3.2" ry="2.2" transform="rotate(0 497.0 1228.4)"/><ellipse cx="544.8" cy="1255.8" rx="3.2" ry="2.2" transform="rotate(0 544.8 1255.8)"/><ellipse cx="704.7" cy="1348.8" rx="3.2" ry="2.2" transform="rotate(0 704.7 1348.8)"/></g>
<g stroke="#000" stroke-width="0.7" fill="#fdfdfc"><ellipse cx="352.8" cy="1209.1" rx="2.2" ry="3.8" transform="rotate(-25 352.8 1209.1)"/><ellipse cx="474.7" cy="1249.1" rx="2.2" ry="3.8" transform="rotate(-25 474.7 1249.1)"/><ellipse cx="497.0" cy="1256.9" rx="2.2" ry="3.8" transform="rotate(-25 497.0 1256.9)"/><ellipse cx="529.3" cy="1281.4" rx="2.2" ry="3.8" transform="rotate(-25 529.3 1281.4)"/><ellipse cx="693.1" cy="1373.7" rx="2.2" ry="3.8" transform="rotate(-25 693.1 1373.7)"/><ellipse cx="662.9" cy="1386.4" rx="2.2" ry="3.8" transform="rotate(-25 662.9 1386.4)"/><ellipse cx="693.1" cy="1402.6" rx="2.2" ry="3.8" transform="rotate(-25 693.1 1402.6)"/></g>
<g stroke="#222" stroke-width="0.75" fill="#fdfdfc"><ellipse cx="415.1" cy="1228.8" rx="7.2" ry="11.2" transform="rotate(-27 415.1 1228.8)"/><ellipse cx="413.6" cy="1228.5" rx="7" ry="11" transform="rotate(-27 413.6 1228.5)"/><ellipse cx="412.5" cy="1228.3" rx="6" ry="9.6" transform="rotate(-27 412.5 1228.3)"/><polygon points="402.8,1223.5 407.8,1220.5 413.8,1223.0 416.8,1231.5 412.1,1234.8 410.3,1238.5 403.1,1235.0 400.5,1228.0"/><path fill="none" d="M402.8,1223.5 L410.2,1226.5 L412.1,1234.8 M410.2,1226.5 L413.8,1223.0"/></g>
<g stroke="#222" stroke-width="0.75" fill="#fdfdfc"><ellipse cx="467.4" cy="1259.9" rx="7.2" ry="11.2" transform="rotate(-27 467.4 1259.9)"/><ellipse cx="465.9" cy="1259.6" rx="7" ry="11" transform="rotate(-27 465.9 1259.6)"/><ellipse cx="464.8" cy="1259.4" rx="6" ry="9.6" transform="rotate(-27 464.8 1259.4)"/><polygon points="455.1,1254.6 460.1,1251.6 466.1,1254.1 469.1,1262.6 464.4,1265.9 462.6,1269.6 455.4,1266.1 452.8,1259.1"/><path fill="none" d="M455.1,1254.6 L462.5,1257.6 L464.4,1265.9 M462.5,1257.6 L466.1,1254.1"/></g>
<g stroke="#222" stroke-width="0.75" fill="#fdfdfc"><ellipse cx="618.7" cy="1349.0" rx="7.2" ry="11.2" transform="rotate(-27 618.7 1349.0)"/><ellipse cx="617.2" cy="1348.7" rx="7" ry="11" transform="rotate(-27 617.2 1348.7)"/><ellipse cx="616.1" cy="1348.5" rx="6" ry="9.6" transform="rotate(-27 616.1 1348.5)"/><polygon points="606.4,1343.7 611.4,1340.7 617.4,1343.2 620.4,1351.7 615.7,1355.0 613.9,1358.7 606.7,1355.2 604.1,1348.2"/><path fill="none" d="M606.4,1343.7 L613.8,1346.7 L615.7,1355.0 M613.8,1346.7 L617.4,1343.2"/></g>
<path stroke="#000" stroke-width="2" stroke-linecap="butt" d="M707.3,1118 L707.3,1158.5 M707.3,1162.5 L707.3,1197.9 M707.3,1200 L707.3,1204.5 M707.3,1206.8 L707.3,1339.5 M707.3,1363.7 L707.3,1372.6 M707.3,1374.8 L707.3,1452"/>
<path stroke="#000" stroke-width="1.6" d="M630.1,1219 L630.1,1294.7 M684.2,1221.2 L684.2,1241.3 M622.4,1256.8 L622.4,1278 M771.5,1252.4 L771.5,1269 M771.5,1281.3 L771.5,1298 M770.4,1332.5 L770.4,1349.2"/>
<path stroke="#000" stroke-width="1.2" fill="none" d="M612,1243 C613,1239 618,1236.5 623,1237.5 C626,1238.5 627,1240 626,1242"/>
<g stroke="#000" stroke-width="0.8" fill="#fdfdfc"><ellipse cx="630.1" cy="1214.0" rx="11.5" ry="6.5"/><ellipse cx="630.1" cy="1212.0" rx="11.5" ry="6.5"/><polygon points="621.6,1206.0 626.6,1202.0 635.1,1202.5 639.1,1207.0 638.6,1213.0 622.1,1213.0"/><path fill="none" d="M621.6,1206.0 L627.1,1209.5 L639.1,1207.0 M627.1,1209.5 L627.1,1215.0"/><ellipse cx="630.6" cy="1205.6" rx="3.6" ry="2.3"/><ellipse cx="630.6" cy="1205.6" rx="1.8" ry="1.1" fill="#888"/></g>
<g stroke="#000" stroke-width="0.8" fill="#fdfdfc"><ellipse cx="684.2" cy="1217.3" rx="11.5" ry="6.5"/><ellipse cx="684.2" cy="1215.3" rx="11.5" ry="6.5"/><polygon points="675.7,1209.3 680.7,1205.3 689.2,1205.8 693.2,1210.3 692.7,1216.3 676.2,1216.3"/><path fill="none" d="M675.7,1209.3 L681.2,1212.8 L693.2,1210.3 M681.2,1212.8 L681.2,1218.3"/><ellipse cx="684.7" cy="1208.9" rx="3.6" ry="2.3"/><ellipse cx="684.7" cy="1208.9" rx="1.8" ry="1.1" fill="#888"/></g>
<g stroke="#000" stroke-width="0.8" fill="#fdfdfc"><ellipse cx="622.4" cy="1252.9" rx="11.5" ry="6.5"/><ellipse cx="622.4" cy="1250.9" rx="11.5" ry="6.5"/><polygon points="613.9,1244.9 618.9,1240.9 627.4,1241.4 631.4,1245.9 630.9,1251.9 614.4,1251.9"/><path fill="none" d="M613.9,1244.9 L619.4,1248.4 L631.4,1245.9 M619.4,1248.4 L619.4,1253.9"/><ellipse cx="622.9" cy="1244.5" rx="3.6" ry="2.3"/><ellipse cx="622.9" cy="1244.5" rx="1.8" ry="1.1" fill="#888"/></g>
<g stroke="#000" stroke-width="0.8" fill="#fdfdfc"><ellipse cx="771.5" cy="1246.3" rx="11.5" ry="6.5"/><ellipse cx="771.5" cy="1244.3" rx="11.5" ry="6.5"/><polygon points="763.0,1238.3 768.0,1234.3 776.5,1234.8 780.5,1239.3 780.0,1245.3 763.5,1245.3"/><path fill="none" d="M763.0,1238.3 L768.5,1241.8 L780.5,1239.3 M768.5,1241.8 L768.5,1247.3"/><ellipse cx="772.0" cy="1237.9" rx="3.6" ry="2.3"/><ellipse cx="772.0" cy="1237.9" rx="1.8" ry="1.1" fill="#888"/></g>
<polygon fill="#000" points="423.1,1143.6 612.0,1203.7 612.2,1203.3 423.9,1141.2"/>
<polygon fill="#000" points="422.9,1143.5 600.4,1242.1 600.6,1241.7 424.1,1141.3"/>
<polygon fill="#000" points="812.2,1168.6 700.7,1210.7 700.9,1211.1 813.0,1171.0"/>
<polygon fill="#000" points="811.4,1169.2 783.0,1227.6 783.4,1227.8 813.8,1170.4"/>
<g stroke="#000" stroke-width="1.8" fill="#fdfdfc">
<path d="M752.6,1314.3 L791.5,1308.5 L810.4,1304.2 C815,1304.5 818.2,1307 819.5,1310.5 C821,1313.5 821.5,1316 821.5,1319.1 L821.5,1428.2 C820,1430.5 815.5,1430.5 813.8,1428.5 L813.8,1321.4 C813,1316 810.5,1313.6 807.1,1313.6 L792.6,1316.9 L757,1324 C750.5,1324.5 748,1317 752.6,1314.3 Z"/>
<path stroke-width="0.8" fill="none" d="M790,1309 L794,1316.5"/>
<path d="M653.6,1426.8 L615.4,1430.7 L598,1433.8 C593.5,1434.5 590.8,1437 589.8,1441 C589.2,1443.5 589,1446 589,1449 L589,1561.5 C590.5,1564 595.5,1564 597,1561.5 L597,1449 C597.2,1445 599,1442.8 602.5,1442.2 L618,1440.5 L655.5,1437.2 C658.5,1436 658,1426.8 653.6,1426.8 Z"/>
<path stroke-width="0.8" fill="none" d="M615.4,1430.7 L618,1440.5"/>
</g>
<g stroke="#000" stroke-width="0.7" fill="#fdfdfc"><ellipse cx="761.0" cy="1319.3" rx="2.8" ry="1.8" transform="rotate(-10 761.0 1319.3)"/><ellipse cx="779.0" cy="1316.0" rx="2.8" ry="1.8" transform="rotate(-10 779.0 1316.0)"/><ellipse cx="628.5" cy="1436.0" rx="2.8" ry="1.8" transform="rotate(-10 628.5 1436.0)"/><ellipse cx="648.0" cy="1433.0" rx="2.8" ry="1.8" transform="rotate(-10 648.0 1433.0)"/></g>
<g stroke="#000" stroke-width="0.9" fill="#fdfdfc"><path d="M739.4,1354.5 C739.4,1351.0 747.8,1351.0 747.8,1354.5 L747.8,1390.5 L739.4,1390.5 Z"/><path stroke="#888" stroke-width="0.6" d="M745.1,1354.5 l0,34"/><path d="M738.1,1390.5 l11,0 l0.5,13 l-12,0 Z"/><path fill="none" d="M737.8,1392.5 c3,2 8,2 11.5,0 M737.8,1395.8 c3,2 8,2 11.5,0 M737.8,1399.1 c3,2 8,2 11.5,0 M737.8,1402.4 c3,2 8,2 11.5,0"/><polygon points="735.1,1404.5 752.1,1404.5 752.6,1410.5 746.6,1414.5 737.6,1414.0 734.6,1409.5"/><path fill="none" d="M739.6,1408.5 l0,5.5 M748.1,1409.0 l0,5"/></g>
<g stroke="#000" stroke-width="0.9" fill="#fdfdfc"><path d="M558.7,1445.3 C558.7,1441.8 567.1,1441.8 567.1,1445.3 L567.1,1481.3 L558.7,1481.3 Z"/><path stroke="#888" stroke-width="0.6" d="M564.4,1445.3 l0,34"/><path d="M557.4,1481.3 l11,0 l0.5,13 l-12,0 Z"/><path fill="none" d="M557.1,1483.3 c3,2 8,2 11.5,0 M557.1,1486.6 c3,2 8,2 11.5,0 M557.1,1489.9 c3,2 8,2 11.5,0 M557.1,1493.2 c3,2 8,2 11.5,0"/><polygon points="554.4,1495.3 571.4,1495.3 571.9,1501.3 565.9,1505.3 556.9,1504.8 553.9,1500.3"/><path fill="none" d="M558.9,1499.3 l0,5.5 M567.4,1499.8 l0,5"/></g>
<g stroke="#000" stroke-width="0.9" fill="#fdfdfc"><path d="M767.8,1351.5 c1,-3 4.5,-3 5.5,0 l0.8,18 l-7,0 Z"/><path fill="none" d="M766.5,1355.5 l8,-2 M766.5,1359.5 l8,-2 M766.5,1363.5 l8,-2 M766.5,1367.5 l8,-2"/><ellipse cx="770.5" cy="1376.5" rx="11" ry="6.8"/><ellipse cx="770.5" cy="1374.5" rx="11" ry="6.8"/><ellipse cx="770.5" cy="1373.0" rx="5" ry="3"/><path d="M762.0,1381.0 l2.5,3.5 l12,0 l2.5,-3.5"/></g>
<g stroke="#000" stroke-width="0.9" fill="#fdfdfc"><path d="M627.5,1468.5 c1,-3 4.5,-3 5.5,0 l0.8,18 l-7,0 Z"/><path fill="none" d="M626.2,1472.5 l8,-2 M626.2,1476.5 l8,-2 M626.2,1480.5 l8,-2 M626.2,1484.5 l8,-2"/><ellipse cx="630.2" cy="1493.5" rx="11" ry="6.8"/><ellipse cx="630.2" cy="1491.5" rx="11" ry="6.8"/><ellipse cx="630.2" cy="1490.0" rx="5" ry="3"/><path d="M621.7,1498.0 l2.5,3.5 l12,0 l2.5,-3.5"/></g>
<path stroke="#000" stroke-width="1.6" d="M770.4,1332.5 L770.4,1349"/>
<g id="pulley" stroke="#000" fill="#fdfdfc">
<path stroke-width="2.4" d="M636.6,1576.4 L636.6,1600 C640,1652 775,1652 778.6,1600 L778.6,1576.4"/>
<ellipse stroke-width="1" cx="707.6" cy="1600" rx="64" ry="38"/>
<path stroke-width="0.9" fill="none" d="M636.8,1578.5 A71,41.2 0 0 0 778.4,1578.5"/>
<ellipse stroke-width="2.6" cx="707.6" cy="1574.7" rx="71" ry="41.2"/>
<ellipse stroke-width="1" cx="707.6" cy="1576" rx="66" ry="37.5"/>
<ellipse stroke-width="1" cx="707.6" cy="1578" rx="60" ry="33.5"/>
<ellipse stroke-width="1.2" cx="707.6" cy="1581.5" rx="42.7" ry="23.9"/>
<ellipse stroke-width="1" cx="707.6" cy="1585" rx="18" ry="9.5"/>
<path stroke-width="2.2" d="M691.8,1505 L691.8,1582 C693,1590.5 722,1590.5 723.2,1582 L723.2,1505 Z"/>
<path stroke-width="0.8" stroke="#555" fill="none" d="M695,1512 L695,1584"/>
<path stroke-width="2.4" d="M656.4,1463.8 L656.4,1484 C659,1521 756,1521 758.8,1484 L758.8,1463.8"/>
<ellipse stroke-width="1" cx="707.6" cy="1486" rx="45" ry="26"/>
<path stroke-width="0.9" fill="none" d="M656.6,1468 A51.2,30.5 0 0 0 758.6,1468"/>
<ellipse stroke-width="2.6" cx="707.6" cy="1465" rx="51" ry="30.5"/>
<ellipse stroke-width="1" cx="707.6" cy="1465.5" rx="46.5" ry="26.5"/>
<ellipse stroke-width="1" cx="707.6" cy="1467.5" rx="41" ry="22.5"/>
<ellipse stroke-width="1" cx="707.6" cy="1474" rx="26" ry="13.5"/>
<ellipse stroke-width="1" cx="707.6" cy="1474.5" rx="20" ry="10"/>
<path stroke-width="2" d="M693.3,1455.3 L693.3,1474.5 C695,1481 717,1481 718.9,1474.5 L718.9,1455.3"/>
<ellipse stroke-width="2" cx="706.1" cy="1455.3" rx="12.8" ry="7.2"/>
<ellipse stroke-width="1" cx="706.3" cy="1456" rx="8.5" ry="4.5"/>
</g>
<g stroke="#000" stroke-width="0.7" fill="#fdfdfc"><ellipse cx="674.5" cy="1583.5" rx="1.8" ry="1.3" transform="rotate(0 674.5 1583.5)"/><ellipse cx="741.5" cy="1583.5" rx="1.8" ry="1.3" transform="rotate(0 741.5 1583.5)"/><ellipse cx="707.6" cy="1594.5" rx="1.8" ry="1.3" transform="rotate(0 707.6 1594.5)"/></g>
<path stroke="#000" stroke-width="2" d="M707.3,1420 L707.3,1455 M707.3,1640 L707.3,1654 M707.3,1668 L707.3,1680 M707.3,1693 L707.3,1708"/>
<g stroke="#000" stroke-width="1" fill="#fdfdfc">
<ellipse cx="706.9" cy="1663.5" rx="13" ry="7.5"/><ellipse cx="706.9" cy="1660" rx="13" ry="7.5"/><ellipse cx="706.9" cy="1660.5" rx="5.5" ry="3" stroke-width="1.6"/>
<ellipse cx="706.9" cy="1688.5" rx="13" ry="7.5"/><ellipse cx="706.9" cy="1685.5" rx="13" ry="7.5"/><ellipse cx="706.9" cy="1686" rx="5.5" ry="3" stroke-width="1.6"/><path d="M708,1682 L716,1679 M710,1684.5 L718,1682"/>
<path d="M702,1710 c0,-3.5 10,-3.5 10,0 l0.5,17 l-11,0 Z"/><path fill="none" d="M701.7,1713.5 c3,2 8,2 10.6,0 M701.7,1717.5 c3,2 8,2 10.6,0 M701.7,1721.5 c3,2 8,2 10.8,0 M701.5,1725 c3,2 8,2 11,0"/>
<polygon points="698.5,1728.5 715.5,1728.5 716.5,1736 710,1740.5 702,1740.5 697.5,1735"/><path fill="none" d="M702.5,1733 l0,7 M711,1733 l0,7"/>
</g>
<polygon fill="#000" points="511.0,1453.8 552.2,1464.1 552.4,1463.5 511.8,1451.2"/>
<polygon fill="#000" points="542.5,1544.4 583.5,1532.3 583.3,1531.7 541.7,1541.6"/>
<polygon fill="#000" points="623.9,1549.5 634.5,1508.9 633.9,1508.7 621.3,1548.7"/>
<polygon fill="#000" points="589.5,1618.8 632.0,1607.4 631.8,1606.8 588.9,1616.0"/>
<polygon fill="#000" points="650.9,1668.2 693.4,1656.9 693.2,1656.3 650.3,1665.4"/>
<polygon fill="#000" points="768.3,1684.2 725.0,1687.0 725.0,1687.6 768.5,1687.0"/>
<polygon fill="#000" points="653.0,1715.9 695.6,1726.9 695.8,1726.3 653.8,1713.3"/>
<polygon fill="#000" points="794.5,1425.6 771.0,1389.2 770.4,1389.6 792.1,1427.0"/>
<polygon fill="#000" points="775.4,1455.6 751.6,1419.2 751.0,1419.6 773.0,1457.0"/>
<polygon fill="#000" points="856.1,1367.9 822.9,1377.5 823.1,1378.1 856.7,1370.7"/>
<text x="677.5" y="90.4">1</text>
<text x="185.5" y="116.5">2</text>
<text x="467.5" y="399.4">3</text>
<text x="477.0" y="430.5">4</text>
<text x="532.8" y="459.7">5</text>
<text x="53.4" y="513.5">26</text>
<text x="600.5" y="374.5">9</text>
<text x="709.3" y="274.2">16</text>
<text x="724.1" y="318.1">17</text>
<text x="1033.6" y="607.1">18</text>
<text x="1094.3" y="659.4">19</text>
<text x="221.2" y="586.1">20</text>
<text x="214.0" y="665.5">6</text>
<text x="171.2" y="907.0">8</text>
<text x="500.9" y="765.7">24</text>
<text x="449.6" y="790.2">25</text>
<text x="614.3" y="868.8">15</text>
<text x="723.5" y="968.4">15</text>
<text x="936.1" y="1036.7">7</text>
<text x="658.7" y="1080.0">10</text>
<text x="793.5" y="1114.2">27</text>
<text x="389.5" y="1141.7">22</text>
<text x="825.4" y="1166.5">22</text>
<text x="480.0" y="1457.7">21</text>
<text x="509.0" y="1552.5">23</text>
<text x="606.3" y="1574.7">28</text>
<text x="559.2" y="1630.3">11</text>
<text x="616.5" y="1677.1">14</text>
<text x="780.3" y="1694.1">12</text>
<text x="621.6" y="1715.6">13</text>
<text x="785.4" y="1452.9">28</text>
<text x="769.4" y="1482.6">21</text>
<text x="873.1" y="1378.5">23</text>
</svg>
<div class="wm"><span style="color:#3f5fae">m</span><span style="color:#3faa3f">o</span><span style="color:#e85a9e">t</span><span style="color:#2f9a4a">o</span><span style="color:#e6501e">r</span><span style="color:#f0a01e">u</span><span style="color:#f2d21e">f</span><span class="de">.de</span></div>
</body></html>
